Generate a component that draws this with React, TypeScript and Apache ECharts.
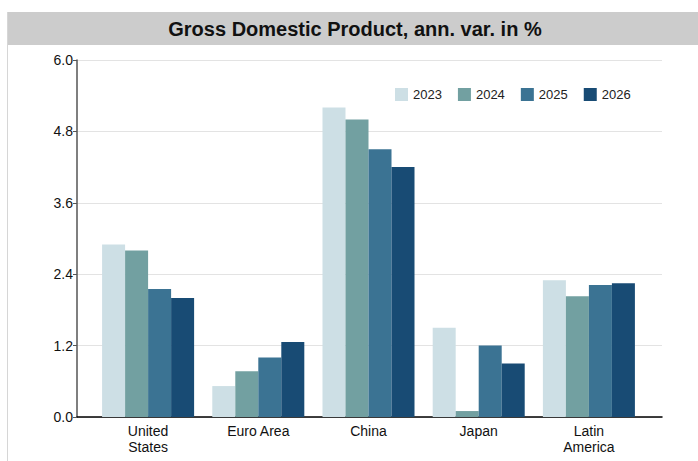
import React, { useEffect, useRef } from "react";
import * as echarts from "echarts";

const categories = ["United\nStates", "Euro Area", "China", "Japan", "Latin\nAmerica"];
const seriesNames = ["2023", "2024", "2025", "2026"];
const values2023 = [2.9, 0.52, 5.2, 1.5, 2.3];
const values2024 = [2.8, 0.77, 5.0, 0.1, 2.03];
const values2025 = [2.15, 1.0, 4.5, 1.2, 2.22];
const values2026 = [2.0, 1.26, 4.2, 0.9, 2.25];
const seriesValues = [values2023, values2024, values2025, values2026];
const colors = ["#cddfe5", "#72a0a1", "#3b7393", "#184b74"];
const yMin = 0;
const yMax = 6.0;
const yInterval = 1.2;
const title = "Gross Domestic Product, ann. var. in %";

export default function App() {
  const ref = useRef<HTMLDivElement>(null);
  useEffect(() => {
    if (!ref.current) return;
    const chart = echarts.init(ref.current, null, { renderer: "svg" });
    const font = "'Liberation Sans', Arial, sans-serif";
    chart.setOption({
      animation: false,
      textStyle: { fontFamily: font },
      graphic: [
        { type: "rect", shape: { x: 7, y: 12, width: 691, height: 33 }, style: { fill: "#cccccc" }, z: 0 },
        { type: "line", shape: { x1: 7.5, y1: 12, x2: 7.5, y2: 461 }, style: { stroke: "#d6d6d6", lineWidth: 1 }, z: 0 },
        {
          type: "text",
          x: 355,
          y: 29,
          style: {
            text: title,
            fill: "#111",
            font: `bold 20px ${font}`,
            textAlign: "center",
            textVerticalAlign: "middle",
          },
          z: 1,
        },
      ],
      legend: {
        data: seriesNames,
        left: 390,
        top: 83,
        itemWidth: 13,
        itemHeight: 13,
        itemGap: 16,
        icon: "rect",
        textStyle: { fontSize: 13, color: "#222", fontFamily: font },
      },
      grid: [
        { left: 77, right: 36, top: 60, bottom: 44 },
        { left: 93, right: 54, top: 60, bottom: 44 },
      ],
      xAxis: [
        {
          type: "value",
          gridIndex: 0,
          min: 0,
          max: 1,
          axisLine: { show: true, onZero: false, lineStyle: { color: "#000", width: 1.5 } },
          axisTick: { show: false },
          axisLabel: { show: false },
          splitLine: { show: false },
        },
        {
          type: "category",
          gridIndex: 1,
          data: categories,
          axisLine: { show: false },
          axisTick: { show: false },
          axisLabel: { color: "#111", fontSize: 14, fontFamily: font, margin: 6, lineHeight: 16 },
        },
      ],
      yAxis: [
        {
          type: "value",
          gridIndex: 0,
          min: yMin,
          max: yMax,
          interval: yInterval,
          axisLine: { show: true, lineStyle: { color: "#555", width: 1.5 } },
          axisTick: { show: true, length: 4, lineStyle: { color: "#555" } },
          axisLabel: { color: "#111", fontSize: 14, fontFamily: font, margin: 4, formatter: (v: number) => v.toFixed(1) },
          splitLine: { lineStyle: { color: "#e3e3e3", width: 1 } },
        },
        {
          type: "value",
          gridIndex: 1,
          min: yMin,
          max: yMax,
          interval: yInterval,
          show: false,
          splitLine: { show: false },
        },
      ],
      series: seriesNames.map((name, i) => ({
        name,
        type: "bar",
        xAxisIndex: 1,
        yAxisIndex: 1,
        data: seriesValues[i],
        itemStyle: { color: colors[i] },
        barGap: "0%",
        barCategoryGap: "16.5%",
      })),
    });
    return () => chart.dispose();
  }, []);
  return <div ref={ref} style={{ position: "absolute", left: 0, top: 0, width: 698, height: 461 }} />;
}
